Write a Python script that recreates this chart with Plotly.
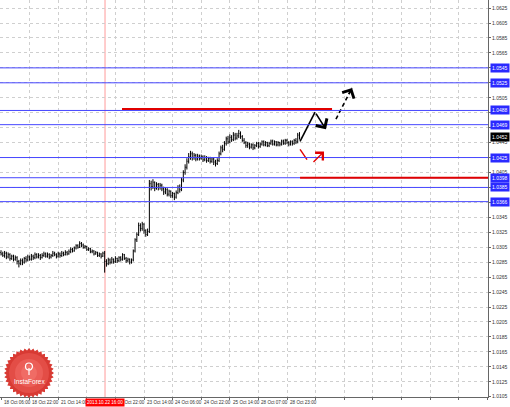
import math
import plotly.graph_objects as go

# ---------------- data ----------------
closes = [
    1.0296, 1.0294, 1.0297, 1.0292, 1.0295, 1.0290, 1.0293, 1.0289, 1.0291, 1.0286, 1.0283, 1.0287,
    1.0285, 1.0290, 1.0288, 1.0292, 1.0289, 1.0293, 1.0291, 1.0295, 1.0292, 1.0294,
    1.0291, 1.0294, 1.0296, 1.0293, 1.0295, 1.0292, 1.0294, 1.0297, 1.0295, 1.0293, 1.0296, 1.0294,
    1.0297, 1.0295, 1.0298, 1.0296, 1.0299, 1.0302, 1.0300, 1.0304, 1.0307, 1.0305, 1.0310,
    1.0308, 1.0305, 1.0306, 1.0302, 1.0303, 1.0299, 1.0300, 1.0296, 1.0298, 1.0294, 1.0296, 1.0293, 1.0297,
    1.0286,
    1.0283, 1.0288, 1.0285, 1.0289, 1.0286, 1.0290, 1.0287, 1.0291, 1.0289, 1.0295, 1.0290,
    1.0287, 1.0289, 1.0285, 1.0288,
    1.0300, 1.0315, 1.0322, 1.0334,
    1.0330, 1.0336, 1.0327, 1.0322, 1.0326,
    1.0390,
    1.0386, 1.0392, 1.0384, 1.0389, 1.0385, 1.0388,
    1.0383, 1.0379, 1.0382, 1.0376, 1.0380, 1.0374, 1.0377, 1.0372, 1.0378,
    1.0385, 1.0382, 1.0395, 1.0405, 1.0412, 1.0420, 1.0426, 1.0430,
    1.0425, 1.0428, 1.0423, 1.0427, 1.0424, 1.0426, 1.0422, 1.0425, 1.0421, 1.0424, 1.0420, 1.0423, 1.0419, 1.0417, 1.0421,
    1.0430, 1.0438, 1.0436, 1.0444, 1.0450,
    1.0446, 1.0452, 1.0449, 1.0455, 1.0451, 1.0454, 1.0457, 1.0453,
    1.0448, 1.0445, 1.0441, 1.0443, 1.0439, 1.0442, 1.0438, 1.0441, 1.0444, 1.0440, 1.0443,
    1.0446, 1.0442, 1.0445, 1.0441, 1.0444, 1.0447, 1.0443, 1.0446, 1.0442, 1.0445, 1.0443, 1.0447, 1.0444, 1.0448, 1.0445, 1.0443, 1.0446, 1.0444,
    1.0448, 1.0446, 1.0455, 1.0452,
]
highs = [
    1.0301, 1.0299, 1.0300, 1.0299, 1.0298, 1.0297, 1.0295, 1.0295, 1.0294, 1.0293, 1.0288, 1.0290,
    1.0290, 1.0292, 1.0293, 1.0295, 1.0294, 1.0296, 1.0295, 1.0298, 1.0297, 1.0297,
    1.0296, 1.0297, 1.0299, 1.0298, 1.0298, 1.0297, 1.0296, 1.0300, 1.0299, 1.0297, 1.0299, 1.0298,
    1.0300, 1.0299, 1.0301, 1.0300, 1.0302, 1.0305, 1.0304, 1.0306, 1.0309, 1.0309, 1.0313,
    1.0312, 1.0310, 1.0308, 1.0307, 1.0305, 1.0304, 1.0302, 1.0301, 1.0300, 1.0299, 1.0298, 1.0297, 1.0299,
    1.0300,
    1.0289, 1.0291, 1.0290, 1.0292, 1.0290, 1.0293, 1.0291, 1.0293, 1.0293, 1.0297, 1.0296,
    1.0292, 1.0291, 1.0290, 1.0290,
    1.0302, 1.0317, 1.0325, 1.0338,
    1.0337, 1.0339, 1.0337, 1.0329, 1.0330,
    1.0395,
    1.0394, 1.0396, 1.0393, 1.0392, 1.0391, 1.0391,
    1.0390, 1.0386, 1.0385, 1.0384, 1.0382, 1.0381, 1.0379, 1.0378, 1.0381,
    1.0388, 1.0389, 1.0398, 1.0408, 1.0416, 1.0424, 1.0431, 1.0434,
    1.0433, 1.0431, 1.0430, 1.0430, 1.0429, 1.0429, 1.0428, 1.0428, 1.0427, 1.0426, 1.0426, 1.0425, 1.0425, 1.0422, 1.0424,
    1.0433, 1.0441, 1.0442, 1.0447, 1.0453,
    1.0454, 1.0456, 1.0455, 1.0459, 1.0458, 1.0458, 1.0462, 1.0460,
    1.0455, 1.0451, 1.0447, 1.0446, 1.0445, 1.0444, 1.0444, 1.0443, 1.0446, 1.0446, 1.0445,
    1.0448, 1.0448, 1.0447, 1.0446, 1.0446, 1.0449, 1.0449, 1.0448, 1.0447, 1.0447, 1.0446, 1.0449, 1.0449, 1.0450, 1.0450, 1.0447, 1.0448, 1.0448,
    1.0450, 1.0451, 1.0458, 1.0459,
]
lows = [
    1.0294, 1.0292, 1.0291, 1.0289, 1.0290, 1.0287, 1.0288, 1.0286, 1.0287, 1.0282, 1.0278, 1.0281,
    1.0281, 1.0283, 1.0285, 1.0286, 1.0287, 1.0287, 1.0288, 1.0289, 1.0290, 1.0290,
    1.0288, 1.0290, 1.0292, 1.0291, 1.0291, 1.0289, 1.0290, 1.0292, 1.0293, 1.0290, 1.0291, 1.0291,
    1.0292, 1.0293, 1.0294, 1.0294, 1.0295, 1.0297, 1.0298, 1.0299, 1.0302, 1.0303, 1.0304,
    1.0305, 1.0303, 1.0303, 1.0300, 1.0300, 1.0297, 1.0297, 1.0294, 1.0295, 1.0292, 1.0292, 1.0290, 1.0292,
    1.0271,
    1.0279, 1.0281, 1.0282, 1.0283, 1.0283, 1.0284, 1.0284, 1.0285, 1.0286, 1.0287, 1.0288,
    1.0284, 1.0285, 1.0282, 1.0283,
    1.0286, 1.0298, 1.0312, 1.0320,
    1.0326, 1.0327, 1.0323, 1.0319, 1.0320,
    1.0324,
    1.0381, 1.0383, 1.0380, 1.0382, 1.0381, 1.0382,
    1.0380, 1.0375, 1.0376, 1.0373, 1.0373, 1.0371, 1.0371, 1.0368, 1.0370,
    1.0376, 1.0378, 1.0380, 1.0392, 1.0402, 1.0409, 1.0417, 1.0422,
    1.0421, 1.0422, 1.0420, 1.0421, 1.0421, 1.0422, 1.0419, 1.0420, 1.0418, 1.0419, 1.0417, 1.0418, 1.0415, 1.0413, 1.0415,
    1.0419, 1.0428, 1.0432, 1.0434, 1.0441,
    1.0443, 1.0444, 1.0446, 1.0447, 1.0448, 1.0449, 1.0451, 1.0450,
    1.0446, 1.0443, 1.0438, 1.0438, 1.0436, 1.0437, 1.0435, 1.0436, 1.0439, 1.0437, 1.0438,
    1.0441, 1.0440, 1.0440, 1.0439, 1.0439, 1.0442, 1.0441, 1.0441, 1.0440, 1.0440, 1.0440, 1.0441, 1.0442, 1.0442, 1.0443, 1.0440, 1.0441, 1.0441,
    1.0442, 1.0443, 1.0444, 1.0449,
]
first_open = 1.0298
opens = [first_open] + closes[:-1]
bars = list(range(len(closes)))

# x-axis (bar index of each grid line) and labels
grid_bars = list(range(0, 273, 16))
time_labels = ["18 Oct 06:00", "18 Oct 22:00", "21 Oct 14:00", "22 Oct 06:00",
               "22 Oct 22:00", "23 Oct 14:00", "24 Oct 06:00", "24 Oct 22:00",
               "25 Oct 14:00", "28 Oct 07:00", "28 Oct 23:00"]

# y-axis ticks
y_ticks = [round(1.0105 + 0.002 * k, 4) for k in range(27)]

# horizontal levels
blue_levels = [1.0545, 1.0525, 1.0488, 1.0469, 1.0425, 1.0398, 1.0385, 1.0366]
current_price = 1.0452
red_level_1 = 1.0490
red_level_1_span = [67.7, 185.2]
red_level_2 = 1.0398
red_level_2_start = 167.3
vline_bar = 58.2
vline_label = "2013.10.22 16:00"

# forecast arrows
black_path_x = [167.3, 175.7, 181.8]
black_path_y = [1.04466, 1.04858, 1.04628]
dash_path_x = [187.4, 196.4]
dash_path_y = [1.04764, 1.05182]
red_line_x = [167.3, 171.2]
red_line_y = [1.04358, 1.04223]
red_arrow_x = [174.0, 180.7]
red_arrow_y = [1.04169, 1.04331]

# ---------------- figure ----------------
W, H = 510, 407
ML, MR, MT, MB = 0, 22, 0, 10
PW, PH = W - ML - MR, H - MT - MB
X0, X1 = -0.56, 272.45
Y0, Y1 = 1.01046, 1.06358
FONT = "Liberation Sans"

fig = go.Figure()

fig.add_trace(go.Ohlc(
    x=bars, open=opens, high=highs, low=lows, close=closes,
    increasing=dict(line=dict(color="#000000", width=1)),
    decreasing=dict(line=dict(color="#000000", width=1)),
    tickwidth=0.35, hoverinfo="skip", showlegend=False,
))

shapes = []
for lv in blue_levels:
    shapes.append(dict(type="line", xref="paper", x0=0, x1=1, yref="y", y0=lv, y1=lv,
                       line=dict(color="#4646ff", width=1), layer="above"))
shapes.append(dict(type="line", xref="x", x0=vline_bar, x1=vline_bar, yref="paper", y0=0, y1=1,
                   line=dict(color="#ff9a9a", width=1), layer="below"))
shapes.append(dict(type="line", xref="x", x0=red_level_1_span[0], x1=red_level_1_span[1],
                   yref="y", y0=red_level_1, y1=red_level_1,
                   line=dict(color="#e00000", width=2), layer="above"))
shapes.append(dict(type="line", xref="x", x0=red_level_2_start, x1=X1, yref="y",
                   y0=red_level_2, y1=red_level_2, line=dict(color="#e00000", width=2), layer="above"))

# InstaForex badge (pixel geometry -> paper)
cx, cy = 29, 373
def px2paper(px, py):
    return px / PW, 1 - py / PH
pts = []
n = 36
for k in range(2 * n):
    r = 25 if k % 2 == 0 else 22.5
    a = math.pi * k / n
    pts.append(px2paper(cx + r * math.cos(a), cy + r * math.sin(a)))
path = "M " + " L ".join(f"{x:.5f},{y:.5f}" for x, y in pts) + " Z"
shapes.append(dict(type="path", xref="paper", yref="paper", path=path,
                   fillcolor="#d83a33", line=dict(width=0), layer="above"))
for r, col in [(20, "rgba(235,90,84,0.6)"), (14, "rgba(240,105,98,0.6)"), (8, "rgba(244,118,110,0.6)")]:
    xa, ya = px2paper(cx - r, cy - r)
    xb, yb = px2paper(cx + r, cy + r)
    shapes.append(dict(type="circle", xref="paper", yref="paper", x0=xa, x1=xb, y0=ya, y1=yb,
                       fillcolor=col, line=dict(width=0), layer="above"))
xa, ya = px2paper(cx - 3.5, 363)
xb, yb = px2paper(cx + 3.5, 370)
shapes.append(dict(type="circle", xref="paper", yref="paper", x0=xa, x1=xb, y0=ya, y1=yb,
                   line=dict(color="white", width=1.2), layer="above"))
xa, ya = px2paper(cx, 368)
xb, yb = px2paper(cx, 375)
shapes.append(dict(type="line", xref="paper", yref="paper", x0=xa, x1=xb, y0=ya, y1=yb,
                   line=dict(color="white", width=1.2), layer="above"))

# forecast lines
fig.add_trace(go.Scatter(x=black_path_x[:2], y=black_path_y[:2], mode="lines",
                         line=dict(color="black", width=1.6), hoverinfo="skip", showlegend=False))
fig.add_trace(go.Scatter(x=dash_path_x, y=dash_path_y, mode="lines",
                         line=dict(color="black", width=1.6, dash="4px,3px"), hoverinfo="skip", showlegend=False))
fig.add_trace(go.Scatter(x=red_line_x, y=red_line_y, mode="lines",
                         line=dict(color="#e00000", width=1.4), hoverinfo="skip", showlegend=False))

annotations = []
annotations.append(dict(x=black_path_x[2], y=black_path_y[2], ax=black_path_x[1], ay=black_path_y[1],
                        xref="x", yref="y", axref="x", ayref="y", showarrow=True, text="",
                        arrowhead=4, arrowsize=1.6, arrowwidth=1.6, arrowcolor="black"))
hx = dash_path_x[1] - 0.25 * (dash_path_x[1] - dash_path_x[0])
hy = dash_path_y[1] - 0.25 * (dash_path_y[1] - dash_path_y[0])
annotations.append(dict(x=dash_path_x[1], y=dash_path_y[1], ax=hx, ay=hy,
                        xref="x", yref="y", axref="x", ayref="y", showarrow=True, text="",
                        arrowhead=4, arrowsize=1.6, arrowwidth=1.6, arrowcolor="black"))
annotations.append(dict(x=red_arrow_x[1], y=red_arrow_y[1], ax=red_arrow_x[0], ay=red_arrow_y[0],
                        xref="x", yref="y", axref="x", ayref="y", showarrow=True, text="",
                        arrowhead=4, arrowsize=1.5, arrowwidth=1.4, arrowcolor="#e00000"))

for b, t in zip(grid_bars, time_labels):
    annotations.append(dict(x=b + 0.4, y=0, xref="x", yref="paper", xanchor="left", yanchor="top",
                            yshift=-1, text=t, showarrow=False,
                            font=dict(family=FONT, size=4.6, color="#333333")))
annotations.append(dict(x=vline_bar, y=0, xref="x", yref="paper", xanchor="center", yanchor="top",
                        yshift=-1, text=vline_label, showarrow=False, bgcolor="#ff0000",
                        borderpad=1, font=dict(family=FONT, size=4.6, color="white")))
for lv in blue_levels:
    annotations.append(dict(x=1, y=lv, xref="paper", yref="y", xanchor="left", yanchor="middle",
                            xshift=2, text=f"{lv:.4f}", showarrow=False, bgcolor="#2a2aff",
                            borderpad=1, font=dict(family=FONT, size=5, color="white")))
annotations.append(dict(x=1, y=current_price, xref="paper", yref="y", xanchor="left", yanchor="middle",
                        xshift=2, text=f"{current_price:.4f}", showarrow=False, bgcolor="#000000",
                        borderpad=1, font=dict(family=FONT, size=5, color="white")))
bx, by = px2paper(cx, 381)
annotations.append(dict(x=bx, y=by, xref="paper", yref="paper", text="InstaForex", showarrow=False,
                        xanchor="center", yanchor="middle",
                        font=dict(family=FONT, size=6.5, color="white")))

fig.update_layout(
    width=W, height=H, autosize=False,
    margin=dict(l=ML, r=MR, t=MT, b=MB, pad=0),
    paper_bgcolor="white", plot_bgcolor="white",
    showlegend=False,
    shapes=shapes, annotations=annotations,
    xaxis=dict(range=[X0, X1], tickvals=grid_bars, showticklabels=False,
               showgrid=True, gridcolor="#cfcfcf", griddash="dot", gridwidth=1,
               zeroline=False, showline=True, linecolor="#666666", linewidth=1,
               ticks="outside", ticklen=2, tickcolor="#666666",
               rangeslider=dict(visible=False), fixedrange=True),
    yaxis=dict(range=[Y0, Y1], side="right", tickvals=y_ticks,
               ticktext=[f"{v:.4f}" for v in y_ticks],
               showgrid=True, gridcolor="#cfcfcf", griddash="dot", gridwidth=1,
               zeroline=False, showline=True, linecolor="#666666", linewidth=1,
               ticks="outside", ticklen=2, tickcolor="#666666",
               tickfont=dict(family=FONT, size=5, color="#333333"), fixedrange=True),
)

fig.write_html("out.html", config={"displayModeBar": False},
               post_script="document.body.style.margin='0';document.body.style.padding='0';")
